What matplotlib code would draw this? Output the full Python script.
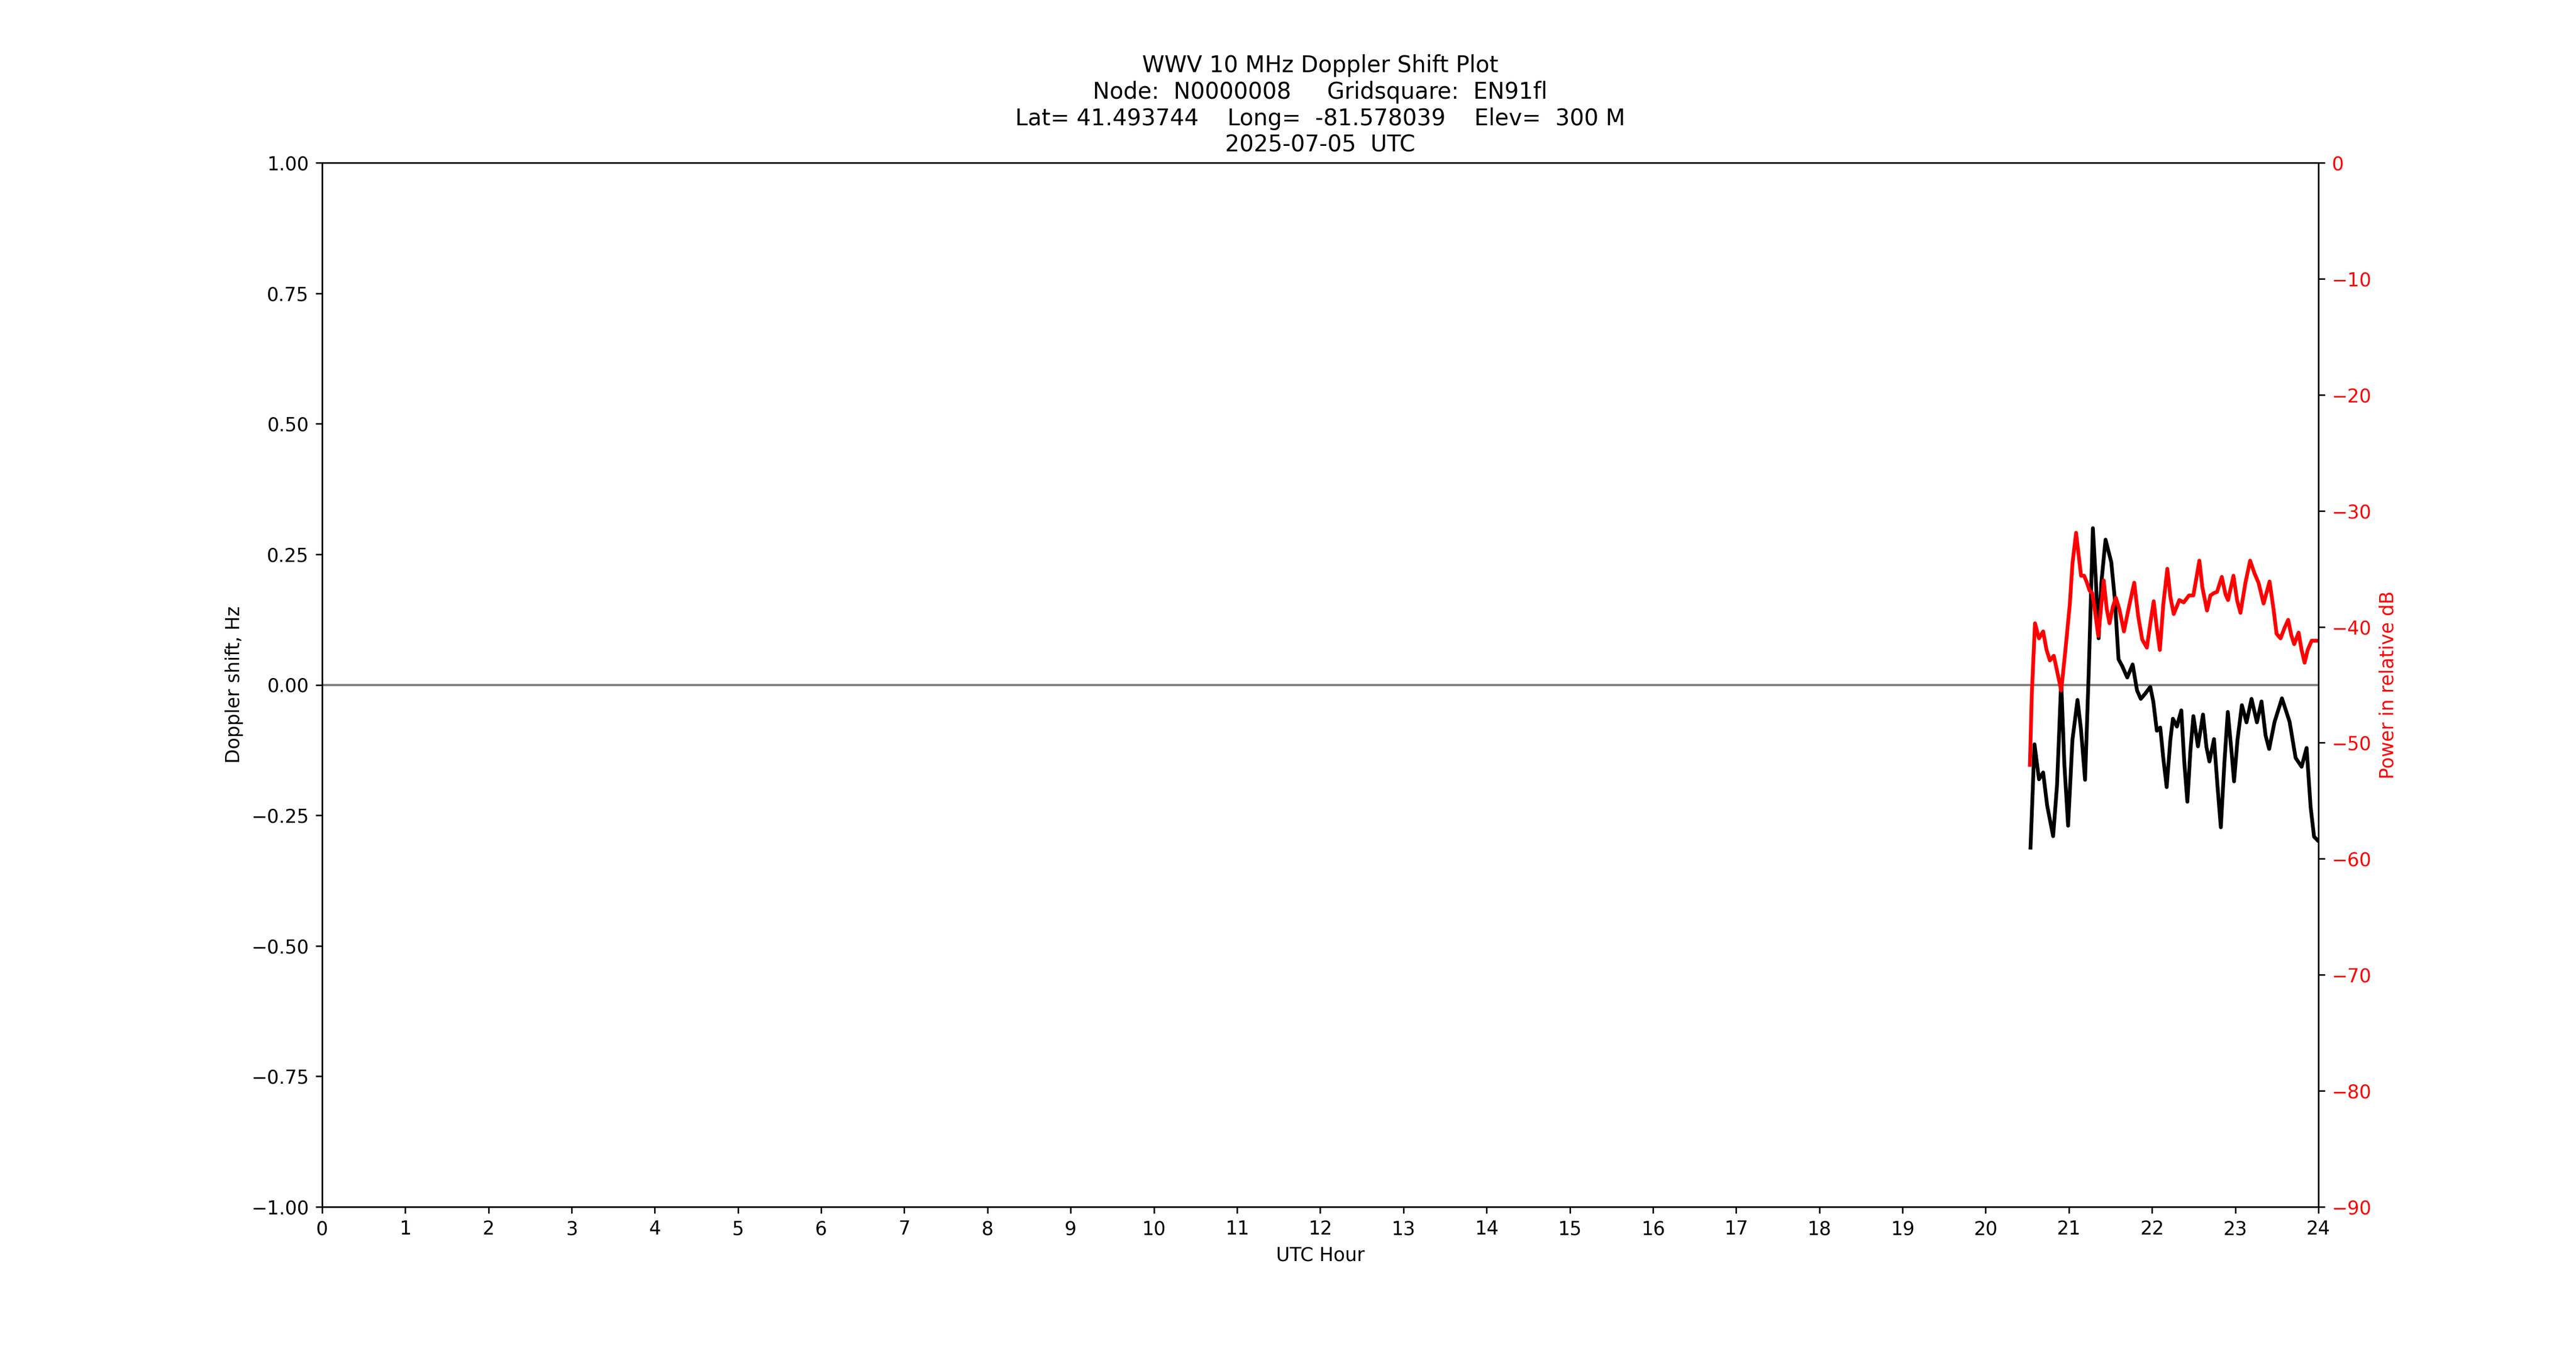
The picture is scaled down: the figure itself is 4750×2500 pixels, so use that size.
import numpy as np
import matplotlib
matplotlib.use("Agg")
import matplotlib.pyplot as plt

# doppler shift (black, left axis)
dop_hours = [20.539, 20.587, 20.641, 20.691, 20.739, 20.811, 20.858, 20.908, 20.945, 20.991,
             21.043, 21.104, 21.145, 21.195, 21.239, 21.289, 21.326, 21.358, 21.391, 21.441,
             21.510, 21.554, 21.597, 21.641, 21.702, 21.767, 21.820, 21.865, 21.918, 21.979,
             22.015, 22.058, 22.099, 22.135, 22.176, 22.220, 22.251, 22.299, 22.352, 22.388,
             22.425, 22.461, 22.497, 22.552, 22.613, 22.654, 22.690, 22.745, 22.786, 22.827,
             22.870, 22.911, 22.955, 22.986, 23.027, 23.080, 23.136, 23.196, 23.261, 23.316,
             23.365, 23.408, 23.473, 23.562, 23.654, 23.726, 23.798, 23.858, 23.907, 23.948,
             23.991]
dop_hz = [-0.312, -0.114, -0.181, -0.168, -0.231, -0.290, -0.192, 0.007, -0.149, -0.270,
          -0.106, -0.029, -0.084, -0.182, 0.024, 0.300, 0.196, 0.089, 0.196, 0.278,
          0.235, 0.162, 0.049, 0.036, 0.014, 0.039, -0.011, -0.027, -0.017, -0.004,
          -0.032, -0.088, -0.082, -0.140, -0.196, -0.106, -0.065, -0.080, -0.049, -0.149,
          -0.224, -0.127, -0.060, -0.118, -0.057, -0.119, -0.147, -0.104, -0.192, -0.273,
          -0.149, -0.052, -0.127, -0.185, -0.106, -0.039, -0.072, -0.027, -0.072, -0.032,
          -0.097, -0.123, -0.071, -0.026, -0.071, -0.140, -0.157, -0.121, -0.235, -0.291,
          -0.298]

# received power (red, right axis)
pwr_hours = [20.532, 20.554, 20.593, 20.641, 20.691, 20.732, 20.772, 20.819, 20.858, 20.908,
             20.956, 21.011, 21.043, 21.087, 21.119, 21.147, 21.184, 21.217, 21.250, 21.282,
             21.315, 21.354, 21.391, 21.419, 21.456, 21.489, 21.528, 21.565, 21.608, 21.662,
             21.728, 21.786, 21.834, 21.882, 21.938, 21.979, 22.020, 22.058, 22.094, 22.135,
             22.184, 22.220, 22.261, 22.328, 22.381, 22.444, 22.497, 22.533, 22.569, 22.605,
             22.661, 22.702, 22.743, 22.781, 22.839, 22.883, 22.914, 22.979, 23.022, 23.063,
             23.123, 23.179, 23.232, 23.280, 23.341, 23.413, 23.461, 23.497, 23.545, 23.593,
             23.637, 23.673, 23.709, 23.762, 23.798, 23.834, 23.871, 23.919, 23.991]
pwr_db = [-51.9, -45.9, -39.7, -41.0, -40.4, -42.0, -42.9, -42.5, -43.8, -45.5,
          -42.2, -38.1, -34.6, -31.9, -33.9, -35.6, -35.6, -36.2, -36.9, -37.1,
          -38.7, -40.8, -38.1, -36.0, -38.5, -39.7, -38.3, -37.5, -38.5, -40.4,
          -38.1, -36.2, -39.1, -41.1, -41.8, -39.7, -37.8, -40.1, -42.0, -38.1,
          -35.0, -37.4, -38.9, -37.7, -37.9, -37.3, -37.3, -35.8, -34.3, -36.6,
          -38.6, -37.3, -37.1, -37.0, -35.7, -37.2, -37.7, -35.6, -37.7, -38.8,
          -36.2, -34.3, -35.4, -36.2, -38.0, -36.1, -38.5, -40.6, -41.0, -40.1,
          -39.4, -40.7, -41.5, -40.5, -42.0, -43.1, -42.0, -41.2, -41.2]

title = ("WWV 10 MHz Doppler Shift Plot\n"
         "Node:  N0000008     Gridsquare:  EN91fl\n"
         "Lat= 41.493744    Long=  -81.578039    Elev=  300 M\n"
         "2025-07-05  UTC")


def main():
    fig = plt.figure(figsize=(19, 10), dpi=250)
    ax1 = fig.add_subplot(111)

    ax1.axhline(0, color="grey", linewidth=1.2)
    ax1.plot(dop_hours, dop_hz, color="k", linewidth=2)
    ax1.set_xlim(0, 24)
    ax1.set_xticks(np.arange(0, 25, 1))
    ax1.set_ylim(-1, 1)
    ax1.set_yticks(np.arange(-1, 1.01, 0.25))
    ax1.set_xlabel("UTC Hour")
    ax1.set_ylabel("Doppler shift, Hz")
    ax1.set_title(title)

    ax2 = ax1.twinx()
    ax2.plot(pwr_hours, pwr_db, color="r", linewidth=2)
    ax2.set_ylim(-90, 0)
    ax2.set_yticks(np.arange(-90, 1, 10))
    ax2.set_ylabel("Power in relative dB", color="r")
    ax2.tick_params(axis="y", labelcolor="r")

    fig.savefig("out.png", dpi=250)


if __name__ == "__main__":
    main()
